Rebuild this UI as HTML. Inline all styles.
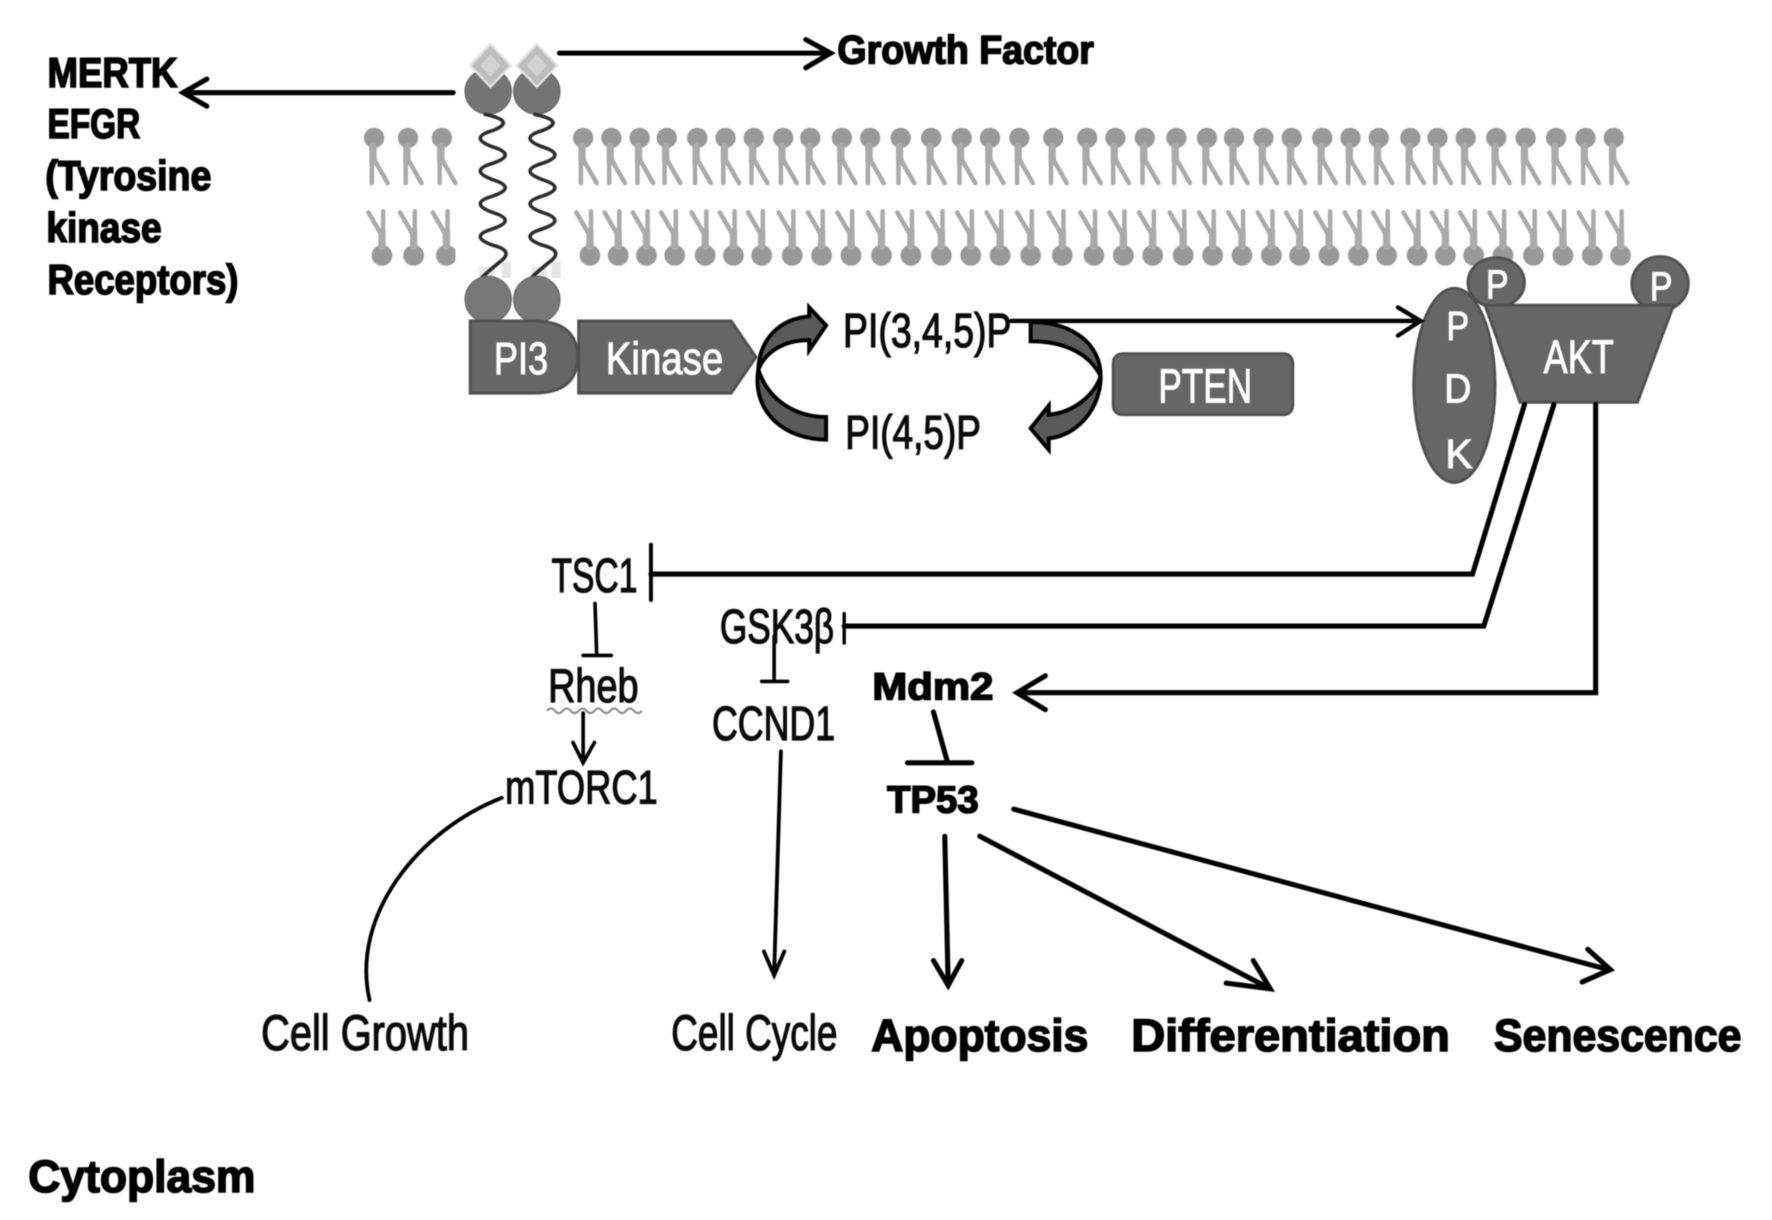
<!DOCTYPE html>
<html><head><meta charset="utf-8"><title>PI3K/AKT signaling pathway</title>
<style>
html,body{margin:0;padding:0;background:#fff}
svg{display:block;filter:blur(.6px)}
text{font-family:"Liberation Sans","DejaVu Sans",sans-serif}
.b{font-weight:bold;font-size:37px;fill:#000;stroke:#000;stroke-width:1.4;paint-order:stroke}
.r{font-size:42px;fill:#0a0a0a;stroke:#0a0a0a;stroke-width:1.1}
.w{font-size:40px;fill:#fff;stroke:#fff;stroke-width:.9}
.ln{fill:none;stroke:#000;stroke-width:4.5;stroke-linecap:round;stroke-linejoin:miter}
.sh{fill:#666;stroke:#505050;stroke-width:2.5}
.cv{fill:#5a5a5a;stroke:#000;stroke-width:3.5;stroke-linejoin:miter}
.gs{fill:none;stroke:#aaa;stroke-width:4;stroke-linecap:round}
.gt{fill:none;stroke:#aaa;stroke-width:6.5;stroke-linecap:round}
.wv{fill:none;stroke:#2c2c2c;stroke-width:3.2}
</style></head><body>
<svg xmlns="http://www.w3.org/2000/svg" width="1772" height="1220" viewBox="0 0 1568 1079.6">
<defs>
<g id="up"><circle cx="0" cy="122" r="9" fill="#999"/><path class="gt" d="M-1,130V143"/><path class="gs" d="M-2,143V162M0,141L12,162"/></g>
<g id="dn"><circle cx="0" cy="226" r="9.2" fill="#999"/><path class="gt" d="M0,218V205"/><path class="gs" d="M1,205V187M-1,207L-12,188"/></g>
</defs>
<rect width="1568" height="1080" fill="#fff"/>

<!-- membrane top leaflet -->
<use href="#up" x="331"/><use href="#up" x="361"/><use href="#up" x="391"/>
<use href="#up" x="516"/><use href="#up" x="541"/><use href="#up" x="566"/><use href="#up" x="590"/><use href="#up" x="617"/><use href="#up" x="642"/><use href="#up" x="667"/><use href="#up" x="693"/><use href="#up" x="717"/><use href="#up" x="745"/><use href="#up" x="770"/><use href="#up" x="797"/><use href="#up" x="824"/><use href="#up" x="851"/><use href="#up" x="876"/><use href="#up" x="902"/><use href="#up" x="932"/><use href="#up" x="962"/><use href="#up" x="987"/><use href="#up" x="1013"/><use href="#up" x="1041"/><use href="#up" x="1068"/><use href="#up" x="1092"/><use href="#up" x="1118"/><use href="#up" x="1143"/><use href="#up" x="1170"/><use href="#up" x="1195"/><use href="#up" x="1220"/><use href="#up" x="1248"/><use href="#up" x="1272"/><use href="#up" x="1297"/><use href="#up" x="1324"/><use href="#up" x="1350"/><use href="#up" x="1377"/><use href="#up" x="1403"/><use href="#up" x="1428"/>
<!-- membrane bottom leaflet -->
<use href="#dn" x="338"/><use href="#dn" x="366"/><use href="#dn" x="395"/>
<rect x="403" y="180" width="12" height="60" fill="#fff"/>
<use href="#dn" x="522"/><use href="#dn" x="547"/><use href="#dn" x="572"/><use href="#dn" x="597"/><use href="#dn" x="624"/><use href="#dn" x="649"/><use href="#dn" x="674"/><use href="#dn" x="701"/><use href="#dn" x="727"/><use href="#dn" x="753"/><use href="#dn" x="780"/><use href="#dn" x="806"/><use href="#dn" x="833"/><use href="#dn" x="859"/><use href="#dn" x="885"/><use href="#dn" x="912"/><use href="#dn" x="940"/><use href="#dn" x="968"/><use href="#dn" x="994"/><use href="#dn" x="1020"/><use href="#dn" x="1047"/><use href="#dn" x="1073"/><use href="#dn" x="1099"/><use href="#dn" x="1125"/><use href="#dn" x="1150"/><use href="#dn" x="1176"/><use href="#dn" x="1202"/><use href="#dn" x="1227"/><use href="#dn" x="1254"/><use href="#dn" x="1279"/><use href="#dn" x="1304"/><use href="#dn" x="1330"/><use href="#dn" x="1357"/><use href="#dn" x="1383"/><use href="#dn" x="1409"/><use href="#dn" x="1434"/>

<!-- receptor -->
<path d="M415,222h16v24h-16zM458,222h40v24h-40z" fill="#ececec" opacity=".0"/>
<ellipse cx="432" cy="81" rx="20.500" ry="20" fill="#747474" stroke="#666"/>
<ellipse cx="475" cy="81" rx="20.500" ry="20" fill="#747474" stroke="#666"/>
<path d="M434,39L452,58L434,77L416,58Z" fill="#bdbdbd" stroke="#e2e2e2" stroke-width="2"/>
<path d="M475,39L493,58L475,77L457,58Z" fill="#bdbdbd" stroke="#e2e2e2" stroke-width="2"/>
<path d="M434,48L443,58L434,68L425,58Z" fill="#d2d2d2"/>
<path d="M475,48L484,58L475,68L466,58Z" fill="#d2d2d2"/>
<rect x="444" y="232" width="8" height="14" fill="#e4e4e4"/>
<rect x="424" y="236" width="14" height="10" fill="#e8e8e8"/>
<rect x="488" y="232" width="8" height="14" fill="#e4e4e4"/>
<rect x="470" y="236" width="14" height="10" fill="#e8e8e8"/>
<path class="wv" d="M428,101Q458,107 436,115.500Q414,122 436,130Q458,137 436,144.500Q414,151 436,159Q458,166 436,173.500Q414,180 436,188Q458,195 436,202.500Q414,209 436,217Q456,222 442,232Q432,240 426,246"/>
<path class="wv" d="M472,101Q502,107 480,115.500Q458,122 480,130Q502,137 480,144.500Q458,151 480,159Q502,166 480,173.500Q458,180 480,188Q502,195 480,202.500Q458,209 480,217Q500,222 486,232Q476,240 470,246"/>
<circle cx="432" cy="265" r="20.500" fill="#787878" stroke="#666"/>
<circle cx="475" cy="265" r="20.500" fill="#787878" stroke="#666"/>

<!-- PI3 / Kinase -->
<path class="sh" d="M416,284H472Q511,284 511,316Q511,348 472,348H416Z"/>
<path class="sh" d="M512,284H647L669,316L647,348H512Z"/>
<text class="w" x="437" y="331" textLength="48" lengthAdjust="spacingAndGlyphs">PI3</text>
<text class="w" x="536" y="331" textLength="104" lengthAdjust="spacingAndGlyphs">Kinase</text>

<!-- curved arrows -->
<path class="cv" d="M671,327C672,300 690,282 716,280V272L731,288L716,310V301C695,301 678,310 671,327Z"/>
<path class="cv" d="M671,327C665,365 695,389 731,389V369C705,369 680,355 671,327Z"/>
<path class="cv" d="M912,285C950,285 974,305 974,333C965,315 945,302 912,302Z"/>
<path class="cv" d="M974,333C974,360 955,385 928,388V398L912,379L928,359V367C950,365 968,350 974,333Z"/>
<text class="r" x="746" y="307" textLength="149" lengthAdjust="spacingAndGlyphs" style="font-size:43px">PI(3,4,5)P</text>
<text class="r" x="748" y="397" textLength="120" lengthAdjust="spacingAndGlyphs">PI(4,5)P</text>

<rect class="sh" x="985" y="313" width="159" height="54" rx="8"/>
<text class="w" x="1025" y="356" textLength="83" lengthAdjust="spacingAndGlyphs" style="font-size:43px">PTEN</text>

<!-- PDK / AKT -->
<ellipse class="sh" cx="1287" cy="341" rx="36" ry="86"/>
<ellipse class="sh" cx="1324" cy="250" rx="25" ry="22"/>
<ellipse class="sh" cx="1469" cy="251" rx="25" ry="24"/>
<path class="sh" d="M1314,270H1481L1449,356H1345Z"/>
<text class="w" x="1280" y="301" textLength="20" lengthAdjust="spacingAndGlyphs" style="font-size:36px">P</text>
<text class="w" x="1278" y="356" textLength="24" lengthAdjust="spacingAndGlyphs" style="font-size:36px">D</text>
<text class="w" x="1279" y="414" textLength="24" lengthAdjust="spacingAndGlyphs" style="font-size:36px">K</text>
<text class="w" x="1315" y="264" textLength="20" lengthAdjust="spacingAndGlyphs" style="font-size:36px">P</text>
<text class="w" x="1460" y="266" textLength="20" lengthAdjust="spacingAndGlyphs" style="font-size:36px">P</text>
<text class="w" x="1366" y="330" textLength="62" lengthAdjust="spacingAndGlyphs" style="font-size:42px">AKT</text>

<!-- top arrows -->
<path class="ln" d="M495,47H734M713,35L735,47L713,60"/>
<path class="ln" d="M401,82H164M183,70L162,82L183,94"/>
<path class="ln" style="stroke-width:3.8" d="M895,284H1255M1237,272L1257,284L1237,297"/>

<!-- AKT outputs -->
<path class="ln" d="M576,508H1303L1349,358"/>
<path class="ln" style="stroke-width:3.500" d="M576,482V531"/>
<path class="ln" d="M747,554H1313L1375,358"/>
<path class="ln" style="stroke-width:3" d="M747,543V569"/>
<path class="ln" d="M1412,358V613H903M925,598L900,613L925,628"/>

<!-- T bars and downstream -->
<path class="ln" style="stroke-width:3.2" d="M526.5,534L528,580M516,580H541"/>
<path class="ln" style="stroke-width:3.2" d="M685,563V603M674,603H697"/>
<path d="M484,629q3.500,-4 7,0t7,0t7,0t7,0t7,0t7,0t7,0t7,0t7,0t7,0t7,0t7,0" fill="none" stroke="#888" stroke-width="1.800"/>
<path class="ln" style="stroke-width:3.2" d="M516,631V674M507,657L516,675L526,657"/>
<path class="ln" style="stroke-width:3.4" d="M444,706C370,735 310,810 327,885"/>
<path class="ln" style="stroke-width:3.4" d="M691,665L685,862M676,842L685,863L694,842"/>
<path class="ln" d="M826,630L838,673M803,675H860"/>
<path class="ln" d="M836,740L839,870M826,850L839,872L851,850"/>
<path class="ln" d="M867,740L1122,874M1109,850L1124,875L1085,870"/>
<path class="ln" d="M897,716L1423,858M1405,840L1425,858L1400,869"/>

<!-- labels -->
<text class="b" x="42" y="77" textLength="115" lengthAdjust="spacingAndGlyphs">MERTK</text>
<text class="b" x="42" y="122" textLength="82" lengthAdjust="spacingAndGlyphs">EFGR</text>
<text class="b" x="40" y="168" textLength="147" lengthAdjust="spacingAndGlyphs">(Tyrosine</text>
<text class="b" x="41" y="214" textLength="102" lengthAdjust="spacingAndGlyphs">kinase</text>
<text class="b" x="42" y="260" textLength="169" lengthAdjust="spacingAndGlyphs">Receptors)</text>
<text class="b" x="741" y="56" textLength="227" lengthAdjust="spacingAndGlyphs" style="font-size:35px">Growth Factor</text>
<text class="r" x="488" y="524" textLength="76" lengthAdjust="spacingAndGlyphs" style="font-size:43px">TSC1</text>
<text class="r" x="637" y="569" textLength="101" lengthAdjust="spacingAndGlyphs" style="font-size:43px">GSK3β</text>
<text class="r" x="485" y="621" textLength="80" lengthAdjust="spacingAndGlyphs">Rheb</text>
<text class="r" x="630" y="655" textLength="109" lengthAdjust="spacingAndGlyphs" style="font-size:43px">CCND1</text>
<text class="b" x="772" y="619" textLength="107" lengthAdjust="spacingAndGlyphs" style="font-size:34px">Mdm2</text>
<text class="r" x="447" y="711" textLength="135" lengthAdjust="spacingAndGlyphs">mTORC1</text>
<text class="b" x="785" y="719" textLength="81" lengthAdjust="spacingAndGlyphs" style="font-size:34px">TP53</text>
<text class="r" x="231" y="929" textLength="184" lengthAdjust="spacingAndGlyphs" style="font-size:44px">Cell Growth</text>
<text class="r" x="594" y="929" textLength="147" lengthAdjust="spacingAndGlyphs" style="font-size:44px">Cell Cycle</text>
<text class="b" x="771" y="930" textLength="192" lengthAdjust="spacingAndGlyphs" style="font-size:40px">Apoptosis</text>
<text class="b" x="1001" y="930" textLength="282" lengthAdjust="spacingAndGlyphs" style="font-size:40px">Differentiation</text>
<text class="b" x="1322" y="930" textLength="219" lengthAdjust="spacingAndGlyphs" style="font-size:40px">Senescence</text>
<text class="b" x="25" y="1055" textLength="201" lengthAdjust="spacingAndGlyphs" style="font-size:40px">Cytoplasm</text>
</svg>
</body></html>
